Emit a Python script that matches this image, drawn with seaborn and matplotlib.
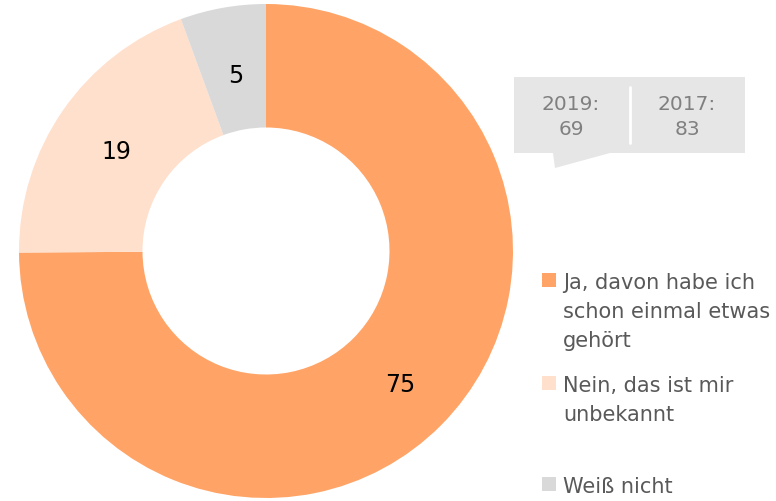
import matplotlib
matplotlib.use("Agg")
import numpy as np
import matplotlib.pyplot as plt
import matplotlib.patches as mpatches
import seaborn as sns

sns.set_theme(style="white")
plt.rcParams['font.family'] = ['DejaVu Sans']

# data
categories = ["Ja, davon habe ich\nschon einmal etwas\ngehört", "Nein, das ist mir\nunbekannt", "Weiß nicht"]
labels = [75, 19, 5]               # printed values
shares = [74.9, 19.5, 5.6]         # slice sizes
my_palette = ["#FFA466", "#FFE0CC", "#D9D9D9"]
prev_years = ["2019:", "2017:"]
prev_values = [69, 83]

W, H = 776, 501
fig = plt.figure(figsize=(W / 100, H / 100), dpi=100)

# donut
ax = fig.add_axes([19 / W, 3 / H, 494 / W, 494 / H])
wedges, texts = ax.pie(shares, colors=my_palette, startangle=90, counterclock=False,
                       radius=1, wedgeprops=dict(width=0.5, linewidth=0))
for w, lab in zip(wedges, labels):
    ang = np.deg2rad((w.theta1 + w.theta2) / 2)
    ax.text(0.75 * np.cos(ang) + 0.01, 0.74 * np.sin(ang) - 0.02, str(lab), ha="center", va="center",
            fontsize=17, color="black")
ax.set_xlim(-1, 1)
ax.set_ylim(-1, 1)
ax.set_aspect("equal")
ax.axis("off")

# callout box with previous years
box = mpatches.Polygon([(514 / W, 1 - 77 / H), (745 / W, 1 - 77 / H), (745 / W, 1 - 153 / H),
                        (610 / W, 1 - 153 / H), (555 / W, 1 - 168 / H), (553 / W, 1 - 153 / H),
                        (514 / W, 1 - 153 / H)],
                       closed=True, transform=fig.transFigure, facecolor="#E6E6E6", edgecolor="none")
fig.patches.append(box)
fig.add_artist(plt.Line2D([630 / W, 630 / W], [1 - 87 / H, 1 - 143 / H], color="white", lw=2,
                          transform=fig.transFigure))
for xc, yr, v in zip([571, 687], prev_years, prev_values):
    fig.text(xc / W, 1 - 117 / H, "%s\n%d" % (yr, v), ha="center", va="center", fontsize=14.5,
             color="#808080", linespacing=1.45)

# legend
marker_y = [280, 383, 484]
for y, lab, c in zip(marker_y, categories, my_palette):
    fig.patches.append(mpatches.Rectangle((542 / W, 1 - (y + 7) / H), 14 / W, 14 / H,
                                          transform=fig.transFigure, facecolor=c, edgecolor="none"))
    for i, line in enumerate(lab.split("\n")):
        fig.text(563 / W, 1 - (y + 9 + 29 * i) / H, line, ha="left", va="baseline", fontsize=15,
                 color="#595959")

fig.savefig("out.png", dpi=100)
